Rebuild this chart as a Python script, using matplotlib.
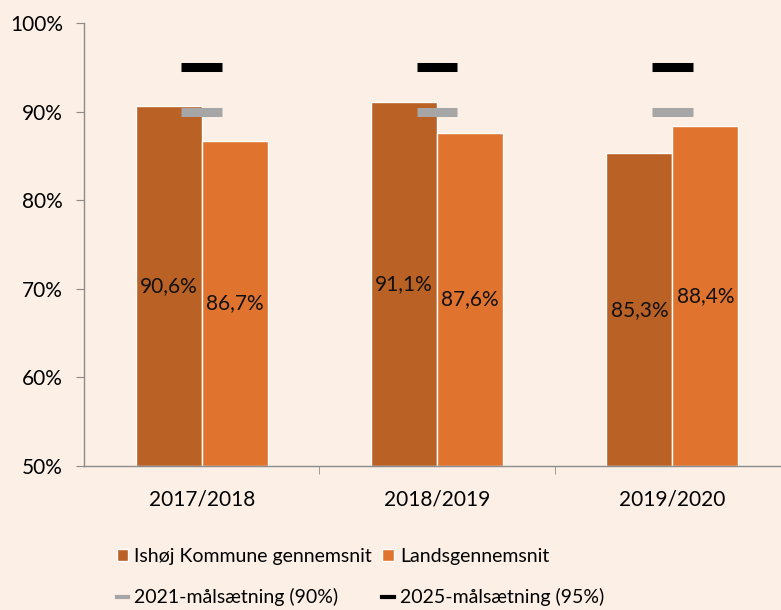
import matplotlib
matplotlib.use("Agg")
import matplotlib.pyplot as plt
from matplotlib.patches import Patch
from matplotlib.lines import Line2D
import numpy as np

categories = ["2017/2018", "2018/2019", "2019/2020"]
ishoej = [90.6, 91.1, 85.3]
lands = [86.7, 87.6, 88.4]
goal_2021 = [90, 90, 90]
goal_2025 = [95, 95, 95]
yticks = [50, 60, 70, 80, 90, 100]

bg = "#FCEFE6"
c_ish = "#BA6125"
c_land = "#E0742F"
c_2021 = "#A6A6A6"
c_2025 = "#000000"
axc = "#8C8C8C"

plt.rcParams['font.family'] = ['Lato', 'DejaVu Sans']

fig = plt.figure(figsize=(7.81, 6.10), dpi=100, facecolor=bg)
ax = fig.add_axes([84/781, (610-466)/610, 706/781, 443/610])
ax.set_facecolor(bg)

x = np.arange(len(categories))
w = 0.28
ax.bar(x - w/2, [v - 50 for v in ishoej], w, bottom=50, color=c_ish, edgecolor="white", linewidth=1, zorder=2)
ax.bar(x + w/2, [v - 50 for v in lands], w, bottom=50, color=c_land, edgecolor="white", linewidth=1, zorder=2)

for xi, v in zip(x - w/2, ishoej):
    ax.text(xi, (50 + v)/2, f"{v:.1f}%".replace(".", ","), ha="center", va="center", fontsize=15, color="#111111", zorder=4)
for xi, v in zip(x + w/2, lands):
    ax.text(xi, (50 + v)/2, f"{v:.1f}%".replace(".", ","), ha="center", va="center", fontsize=15, color="#111111", zorder=4)

mw = 0.087
ax.hlines(goal_2021, x - mw, x + mw, colors=c_2021, linewidth=6.5, zorder=3)
ax.hlines(goal_2025, x - mw, x + mw, colors=c_2025, linewidth=6.5, zorder=3)

ax.set_xlim(-0.5, 2.5)
ax.set_ylim(50, 100)
ax.set_yticks(yticks)
ax.set_yticklabels([f"{t}%" for t in yticks], fontsize=15)
ax.set_xticks(x)
ax.set_xticklabels(categories, fontsize=15)
ax.set_xticks([0.5, 1.5], minor=True)
ax.tick_params(axis="x", which="major", length=0, pad=17)
ax.tick_params(axis="x", which="minor", length=6, color=axc)
ax.tick_params(axis="y", length=6, color=axc, pad=9)
for s in ["top", "right"]:
    ax.spines[s].set_visible(False)
for s in ["left", "bottom"]:
    ax.spines[s].set_color(axc)
    ax.spines[s].set_linewidth(1)

handles = [
    Patch(facecolor=c_ish, edgecolor="white"),
    Line2D([0], [0], color=c_2021, lw=3),
    Patch(facecolor=c_land, edgecolor="white"),
    Line2D([0], [0], color=c_2025, lw=3),
]
labels = ["Ishøj Kommune gennemsnit", "2021-målsætning (90%)", "Landsgennemsnit", "2025-målsætning (95%)"]
fig.legend(handles, labels, ncol=2, loc="center left", bbox_to_anchor=(99/781, 1 - 577/610),
           frameon=False, fontsize=14, handlelength=0.6, handleheight=0.6, handletextpad=0.3,
           columnspacing=0.55, labelspacing=1.2)

fig.savefig("out.png", dpi=100, facecolor=bg)
